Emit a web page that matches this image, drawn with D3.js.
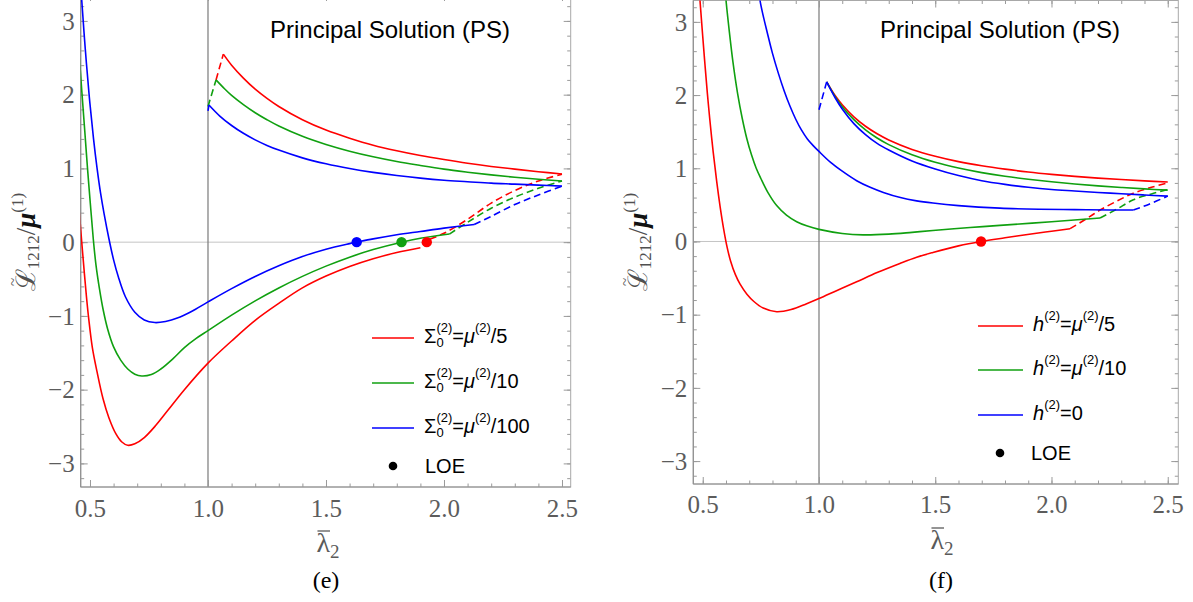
<!DOCTYPE html>
<html><head><meta charset="utf-8">
<script src="https://cdn.jsdelivr.net/npm/d3@7"></script>
<style>html,body{margin:0;padding:0;background:#fff;} svg{display:block;background:#fff;}</style>
</head><body><svg id="c" width="1193" height="602"></svg>
<script>
// ---------------- DATA ----------------
const X_TICKS = [0.5, 1.0, 1.5, 2.0, 2.5];
const Y_TICKS = [-3, -2, -1, 0, 1, 2, 3];
const TITLE = "Principal Solution (PS)";
const PANEL_LABELS = ["(e)", "(f)"];
const COLORS = {red: "#ff0000", green: "#10a010", blue: "#0000ff"};

// Panel (e): Sigma_0^(2) = mu^(2)/5, /10, /100
const eRedMain = [[0.455,0.40],[0.465,0.0],[0.475,-0.38],[0.485,-0.74],[0.495,-1.05],[0.51,-1.43],[0.53,-1.76],[0.555,-2.12],[0.58,-2.38],[0.61,-2.6],[0.635,-2.71],[0.66,-2.755],[0.69,-2.735],[0.73,-2.65],[0.78,-2.48],[0.83,-2.28],[0.9,-2.0],[1.0,-1.64],[1.1,-1.34],[1.2,-1.06],[1.3,-0.83],[1.4,-0.62],[1.5,-0.46],[1.6,-0.33],[1.7,-0.225],[1.8,-0.14],[1.9,-0.075]];
const eRedDash = [[1.94,0.04],[2.0,0.12],[2.1,0.31],[2.2,0.53],[2.3,0.70],[2.4,0.83],[2.5,0.92]];
const eRedUpper = [[1.065,2.55],[1.1,2.40],[1.15,2.225],[1.2,2.075],[1.25,1.95],[1.3,1.84],[1.4,1.66],[1.5,1.52],[1.6,1.41],[1.7,1.315],[1.8,1.24],[1.9,1.175],[2.0,1.12],[2.1,1.07],[2.2,1.027],[2.3,0.99],[2.4,0.955],[2.5,0.925]];
const eRedUpperDash = [[1.034,2.20],[1.065,2.55]];

const eGreenMain = [[0.455,2.5],[0.465,2.06],[0.478,1.5],[0.489,1.02],[0.502,0.5],[0.514,0.04],[0.525,-0.3],[0.54,-0.63],[0.556,-0.92],[0.575,-1.18],[0.6,-1.42],[0.63,-1.6],[0.66,-1.72],[0.69,-1.79],[0.719,-1.815],[0.76,-1.795],[0.8,-1.72],[0.85,-1.585],[0.9,-1.43],[0.95,-1.305],[1.0,-1.2],[1.1,-0.99],[1.2,-0.796],[1.3,-0.621],[1.4,-0.464],[1.5,-0.325],[1.6,-0.203],[1.7,-0.1],[1.82,0.0],[1.9,0.053],[2.023,0.11]];
const eGreenDash = [[2.023,0.11],[2.1,0.27],[2.2,0.46],[2.3,0.61],[2.4,0.73],[2.5,0.83]];
const eGreenUpper = [[1.034,2.20],[1.07,2.08],[1.1,1.99],[1.15,1.865],[1.2,1.755],[1.25,1.66],[1.3,1.575],[1.4,1.436],[1.5,1.325],[1.6,1.234],[1.7,1.158],[1.8,1.094],[1.9,1.04],[2.0,0.99],[2.1,0.949],[2.2,0.912],[2.3,0.88],[2.4,0.852],[2.5,0.83]];
const eGreenUpperDash = [[1.0,1.84],[1.034,2.20]];

const eBlueMain = [[0.462,3.45],[0.465,3.28],[0.48,2.62],[0.497,1.97],[0.515,1.4],[0.53,1.0],[0.545,0.66],[0.56,0.38],[0.58,0.05],[0.6,-0.24],[0.62,-0.47],[0.65,-0.74],[0.69,-0.95],[0.73,-1.055],[0.775,-1.09],[0.82,-1.075],[0.87,-1.03],[0.93,-0.94],[1.0,-0.81],[1.1,-0.63],[1.2,-0.465],[1.3,-0.32],[1.4,-0.195],[1.5,-0.095],[1.6,-0.02],[1.63,0.0],[1.7,0.045],[1.8,0.1],[1.9,0.145],[2.0,0.19],[2.128,0.24]];
const eBlueDash = [[2.128,0.24],[2.2,0.35],[2.3,0.51],[2.4,0.64],[2.5,0.76]];
const eBlueUpper = [[1.004,1.86],[1.05,1.71],[1.1,1.582],[1.15,1.476],[1.2,1.387],[1.25,1.312],[1.3,1.248],[1.4,1.143],[1.5,1.062],[1.6,0.998],[1.7,0.946],[1.8,0.903],[1.9,0.868],[2.0,0.84],[2.1,0.82],[2.2,0.80],[2.3,0.787],[2.4,0.773],[2.5,0.76]];
const eBlueUpperDash = [[1.0,1.78],[1.004,1.86]];

const eLOE = [["red",1.927,0],["green",1.82,0],["blue",1.63,0]];
const eLegendDenoms = ["5","10","100"];

// Panel (f): h^(2) = mu^(2)/5, mu^(2)/10, 0
const fRedMain = [[0.485,3.45],[0.488,3.30],[0.50,2.80],[0.51,2.40],[0.52,2.02],[0.53,1.68],[0.545,1.22],[0.56,0.82],[0.575,0.47],[0.59,0.17],[0.605,-0.08],[0.62,-0.27],[0.64,-0.45],[0.66,-0.58],[0.69,-0.72],[0.72,-0.82],[0.76,-0.91],[0.818,-0.96],[0.88,-0.93],[0.947,-0.85],[1.0,-0.78],[1.08,-0.665],[1.162,-0.55],[1.25,-0.425],[1.348,-0.30],[1.42,-0.215],[1.49,-0.15],[1.6,-0.06],[1.697,0.0],[1.8,0.05],[1.92,0.105],[2.0,0.14],[2.08,0.175]];
const fRedDash = [[2.08,0.175],[2.15,0.31],[2.209,0.43],[2.28,0.55],[2.352,0.66],[2.43,0.74],[2.5,0.80]];
const fRedUpper = [[1.033,2.18],[1.07,1.99],[1.1,1.867],[1.15,1.702],[1.2,1.574],[1.25,1.471],[1.3,1.387],[1.4,1.258],[1.5,1.164],[1.6,1.091],[1.7,1.034],[1.8,0.988],[1.9,0.949],[2.0,0.917],[2.1,0.89],[2.2,0.866],[2.3,0.846],[2.4,0.828],[2.5,0.812]];

const fGreenMain = [[0.598,3.4],[0.6,3.30],[0.615,2.85],[0.63,2.45],[0.65,2.02],[0.67,1.68],[0.69,1.40],[0.71,1.18],[0.73,1.00],[0.75,0.86],[0.78,0.67],[0.818,0.49],[0.86,0.36],[0.904,0.27],[0.95,0.21],[1.0,0.165],[1.1,0.11],[1.19,0.09],[1.3,0.10],[1.4,0.125],[1.49,0.15],[1.65,0.19],[1.778,0.22],[2.0,0.27],[2.209,0.32]];
const fGreenDash = [[2.209,0.32],[2.28,0.44],[2.352,0.57],[2.43,0.65],[2.5,0.71]];
const fGreenUpper = [[1.033,2.18],[1.07,1.975],[1.1,1.842],[1.15,1.664],[1.2,1.525],[1.25,1.414],[1.3,1.323],[1.4,1.184],[1.5,1.081],[1.6,1.003],[1.7,0.941],[1.8,0.891],[1.9,0.85],[2.0,0.815],[2.1,0.786],[2.2,0.76],[2.3,0.738],[2.4,0.718],[2.5,0.701]];

const fBlueMain = [[0.743,3.45],[0.746,3.30],[0.78,2.82],[0.80,2.57],[0.825,2.30],[0.85,2.06],[0.875,1.85],[0.9,1.67],[0.925,1.52],[0.95,1.40],[0.975,1.31],[1.0,1.23],[1.05,1.08],[1.1,0.96],[1.162,0.83],[1.22,0.74],[1.277,0.67],[1.35,0.60],[1.42,0.555],[1.49,0.525],[1.6,0.49],[1.778,0.455],[1.95,0.44],[2.1,0.435],[2.25,0.43],[2.352,0.43]];
const fBlueDash = [[2.352,0.43],[2.42,0.51],[2.5,0.62]];
const fBlueUpper = [[1.033,2.18],[1.07,1.96],[1.1,1.81],[1.15,1.61],[1.2,1.46],[1.25,1.34],[1.3,1.25],[1.4,1.10],[1.5,0.99],[1.6,0.90],[1.7,0.83],[1.8,0.78],[1.9,0.74],[2.0,0.71],[2.1,0.69],[2.2,0.67],[2.3,0.652],[2.4,0.635],[2.5,0.62]];
const fBlueUpperDash = [[1.0,1.80],[1.033,2.18]];

const fLOE = [["red",1.697,0]];
const fLegendTails = ["/5","/10",null];

// ---------------- LAYOUT ----------------
const svg = d3.select('#c');
const SANS = 'Liberation Sans, Arial, sans-serif';
const SERIF = 'Liberation Serif, Times New Roman, serif';

function styleText(sel, p) {
  return sel.style('font-family', p.font || SANS)
    .style('font-size', p.size + 'px')
    .style('font-style', p.style || 'normal')
    .style('font-weight', p.weight || 'normal');
}
function measure(p) {
  const t = styleText(svg.append('text'), p).text(p.t);
  const w = t.node().getComputedTextLength();
  t.remove();
  return w;
}
// rich text in one <text> element with positioned tspans
function rich(parent, x, y, parts, anchor, defFill) {
  let cx = 0, stackStart = 0;
  const pos = [];
  parts.forEach(p => {
    const w = measure(p);
    if (p.over !== undefined) {
      const q = pos[p.over];
      pos.push({x: q.x + q.w * (p.frac || 0.5) - w / 2, w});
      return;
    }
    const sx = p.stack ? stackStart : cx;
    pos.push({x: sx, w});
    if (p.stack) cx = Math.max(cx, sx + w);
    else { stackStart = sx; cx = sx + w; }
  });
  const off = anchor === 'middle' ? -cx / 2 : 0;
  const text = parent.append('text');
  parts.forEach((p, i) => {
    styleText(text.append('tspan'), p)
      .attr('x', x + off + pos[i].x).attr('y', y + (p.dy || 0))
      .attr('fill', p.fill || defFill || '#000').text(p.t);
  });
  return {text, width: cx, pos, off};
}

function drawPanel(cfg, series, loe, legendParts, idx) {
  const xs = d3.scaleLinear().domain(cfg.xd).range([cfg.L, cfg.R]);
  const ys = d3.scaleLinear().domain(cfg.yd).range([cfg.B, cfg.T]);
  const g = svg.append('g');
  const cid = 'clip' + idx;
  svg.append('clipPath').attr('id', cid).append('rect')
    .attr('x', cfg.L).attr('y', cfg.T).attr('width', cfg.R - cfg.L).attr('height', cfg.B - cfg.T);

  // reference lines
  g.append('line').attr('x1', cfg.L).attr('x2', cfg.R).attr('y1', ys(0)).attr('y2', ys(0))
    .attr('stroke', '#c4c4c4').attr('stroke-width', 1);
  g.append('line').attr('x1', xs(1)).attr('x2', xs(1)).attr('y1', cfg.T).attr('y2', cfg.B)
    .attr('stroke', '#7a7a7a').attr('stroke-width', 1.2);

  // ticks
  const tickCol = '#9a9a9a';
  const minorX = d3.range(0.5, 2.5001, 0.1);
  const minorY = d3.range(-3.2, 3.2001, 0.2);
  const mk = (axis, tr) => {
    const a = g.append('g').attr('transform', tr).call(axis);
    a.select('.domain').remove();
    a.attr('color', tickCol);
    return a;
  };
  mk(d3.axisBottom(xs).tickValues(minorX).tickSize(-3.5).tickFormat(''), `translate(0,${cfg.B})`);
  mk(d3.axisTop(xs).tickValues(minorX).tickSize(-3.5).tickFormat(''), `translate(0,${cfg.T})`);
  mk(d3.axisLeft(ys).tickValues(minorY).tickSize(-3.5).tickFormat(''), `translate(${cfg.L},0)`);
  mk(d3.axisRight(ys).tickValues(minorY).tickSize(-3.5).tickFormat(''), `translate(${cfg.R},0)`);
  const bx = mk(d3.axisBottom(xs).tickValues(X_TICKS).tickSize(-7).tickFormat(d3.format('.1f')), `translate(0,${cfg.B})`);
  mk(d3.axisTop(xs).tickValues(X_TICKS).tickSize(-7).tickFormat(''), `translate(0,${cfg.T})`);
  const ly = mk(d3.axisLeft(ys).tickValues(Y_TICKS).tickSize(-7).tickFormat(d3.format('d')), `translate(${cfg.L},0)`);
  mk(d3.axisRight(ys).tickValues(Y_TICKS).tickSize(-7).tickFormat(''), `translate(${cfg.R},0)`);
  bx.selectAll('text').attr('y', cfg.xtickY).attr('dy', 0).attr('fill', '#5c5c5c')
    .style('font-family', SERIF).style('font-size', '25px');
  ly.selectAll('text').attr('x', -6).attr('dy', '0.33em').attr('fill', '#5c5c5c')
    .style('font-family', SERIF).style('font-size', '25px');

  // frame
  g.append('rect').attr('x', cfg.L).attr('y', cfg.T).attr('width', cfg.R - cfg.L).attr('height', cfg.B - cfg.T)
    .attr('fill', 'none').attr('stroke', '#a8a8a8').attr('stroke-width', 1);
  g.append('line').attr('x1', cfg.L).attr('x2', cfg.L).attr('y1', cfg.T).attr('y2', cfg.B)
    .attr('stroke', '#909090').attr('stroke-width', 1.2);
  g.append('line').attr('x1', cfg.L).attr('x2', cfg.R).attr('y1', cfg.B).attr('y2', cfg.B)
    .attr('stroke', '#909090').attr('stroke-width', 1.2);

  // curves
  const plot = g.append('g').attr('clip-path', `url(#${cid})`);
  series.forEach(s => {
    const line = d3.line().x(d => xs(d[0])).y(d => ys(d[1]))
      .curve(s.data.length > 2 ? d3.curveCatmullRom.alpha(0.5) : d3.curveLinear);
    plot.append('path').attr('d', line(s.data)).attr('fill', 'none')
      .attr('stroke', COLORS[s.color]).attr('stroke-width', 1.6)
      .attr('stroke-dasharray', s.dashed ? '7,4' : null);
  });
  plot.selectAll('circle.loe').data(loe).enter().append('circle')
    .attr('cx', d => xs(d[1])).attr('cy', d => ys(d[2])).attr('r', 5.2)
    .attr('fill', d => COLORS[d[0]]);

  // title
  styleText(g.append('text'), {size: 24}).attr('x', cfg.title[0]).attr('y', cfg.title[1])
    .attr('fill', '#000').text(TITLE);

  // x label (lambda-bar sub 2)
  const xl = rich(g, cfg.xlab[0], cfg.xlab[1], [
    {t: 'λ', size: 28, font: SERIF},
    {t: '2', size: 19, font: SERIF, dy: 6}
  ], 'middle', '#5a5a5a');
  const lx0 = cfg.xlab[0] + xl.off + xl.pos[0].x;
  g.append('line').attr('x1', lx0 + 1).attr('x2', lx0 + xl.pos[0].w)
    .attr('y1', cfg.xlab[1] - 21).attr('y2', cfg.xlab[1] - 21)
    .attr('stroke', '#5a5a5a').attr('stroke-width', 1.3);

  // y label (rotated)
  const yg = g.append('g').attr('transform', `translate(${cfg.ylab[0]},${cfg.ylab[1]}) rotate(-90)`);
  rich(yg, 0, 0, [
    {t: 'ℒ', size: 27, font: 'DejaVu Serif, serif'},
    {t: '1212', size: 17, font: SERIF, dy: 4},
    {t: '/', size: 27, font: SERIF},
    {t: 'μ', size: 27, font: SERIF, style: 'italic', weight: 'bold', fill: '#111'},
    {t: '(1)', size: 17, font: SERIF, dy: -12},
    {t: '~', size: 15, font: SERIF, over: 0, frac: 0.42, dy: -17}
  ], 'middle', '#505050');

  // panel label
  styleText(g.append('text'), {size: 24, font: SERIF}).attr('x', cfg.plab[0]).attr('y', cfg.plab[1])
    .attr('text-anchor', 'middle').attr('fill', '#000').text(PANEL_LABELS[idx]);

  // legend
  const lg = cfg.legend;
  ['red', 'green', 'blue'].forEach((c, i) => {
    g.append('line').attr('x1', lg.x1).attr('x2', lg.x2).attr('y1', lg.rows[i]).attr('y2', lg.rows[i])
      .attr('stroke', COLORS[c]).attr('stroke-width', 1.6);
    rich(g, lg.tx, lg.rows[i] + 4.5, legendParts[i], 'start', '#000');
  });
  g.append('circle').attr('cx', lg.dot[0]).attr('cy', lg.dot[1]).attr('r', 4.3).attr('fill', '#000');
  styleText(g.append('text'), {size: 20}).attr('x', lg.loeX).attr('y', lg.dot[1] + 7)
    .attr('fill', '#000').text('LOE');
}

const SUP = -11, SUB = 4.5, SS = 13;
const eLegend = eLegendDenoms.map(d => [
  {t: 'Σ', size: 20},
  {t: '(2)', size: SS, dy: SUP},
  {t: '0', size: SS, dy: SUB, stack: true},
  {t: '=', size: 20},
  {t: 'μ', size: 20, style: 'italic'},
  {t: '(2)', size: SS, dy: SUP},
  {t: '/' + d, size: 20}
]);
const fLegend = fLegendTails.map(d => d ? [
  {t: 'h', size: 20, style: 'italic'},
  {t: '(2)', size: SS, dy: SUP},
  {t: '=', size: 20},
  {t: 'μ', size: 20, style: 'italic'},
  {t: '(2)', size: SS, dy: SUP},
  {t: d, size: 20}
] : [
  {t: 'h', size: 20, style: 'italic'},
  {t: '(2)', size: SS, dy: SUP},
  {t: '=0', size: 20}
]);

const PANEL_E = {L: 80.7, R: 570.7, T: -6, B: 487, xd: [0.4606, 2.5369], yd: [-3.32, 3.365], xtickY: 30,
  title: [270, 38], xlab: [328, 552], plab: [326, 588], ylab: [35, 242],
  legend: {x1: 372, x2: 414, tx: 424, rows: [338, 383, 428], dot: [393, 466], loeX: 425}};
const PANEL_F = {L: 693.3, R: 1178.3, T: 0.5, B: 484, xd: [0.4594, 2.5454], yd: [-3.313, 3.292], xtickY: 29,
  title: [880, 38], xlab: [942, 549], plab: [941, 588], ylab: [647, 242],
  legend: {x1: 978, x2: 1023, tx: 1033, rows: [326, 370, 415], dot: [1000, 453], loeX: 1031}};

drawPanel(PANEL_E, [
  {data: eRedMain, color: 'red'}, {data: eRedDash, color: 'red', dashed: true},
  {data: eRedUpper, color: 'red'}, {data: eRedUpperDash, color: 'red', dashed: true},
  {data: eGreenMain, color: 'green'}, {data: eGreenDash, color: 'green', dashed: true},
  {data: eGreenUpper, color: 'green'}, {data: eGreenUpperDash, color: 'green', dashed: true},
  {data: eBlueMain, color: 'blue'}, {data: eBlueDash, color: 'blue', dashed: true},
  {data: eBlueUpper, color: 'blue'}, {data: eBlueUpperDash, color: 'blue', dashed: true}
], eLOE, eLegend, 0);

drawPanel(PANEL_F, [
  {data: fRedMain, color: 'red'}, {data: fRedDash, color: 'red', dashed: true},
  {data: fRedUpper, color: 'red'},
  {data: fGreenMain, color: 'green'}, {data: fGreenDash, color: 'green', dashed: true},
  {data: fGreenUpper, color: 'green'},
  {data: fBlueMain, color: 'blue'}, {data: fBlueDash, color: 'blue', dashed: true},
  {data: fBlueUpper, color: 'blue'}, {data: fBlueUpperDash, color: 'blue', dashed: true}
], fLOE, fLegend, 1);
</script></body></html>
